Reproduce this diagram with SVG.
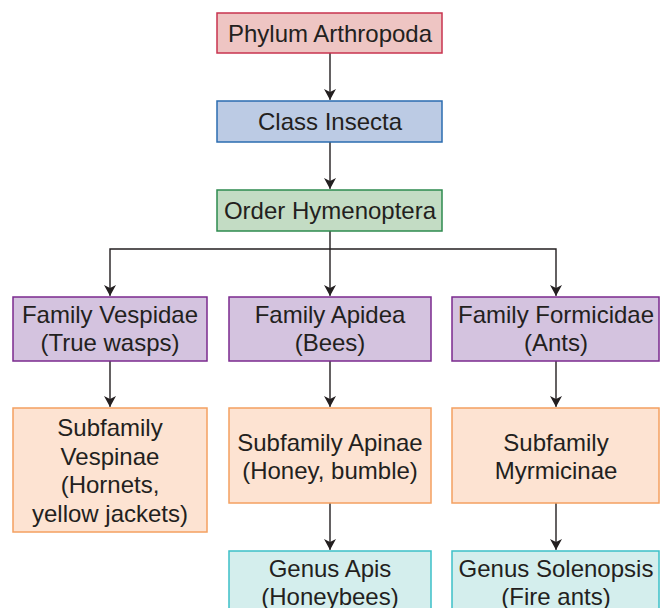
<svg xmlns="http://www.w3.org/2000/svg" width="668" height="608" viewBox="0 0 668 608">
<defs>
<marker id="arr" markerWidth="10" markerHeight="14" refX="11" refY="6" orient="auto" markerUnits="userSpaceOnUse">
<path d="M0,0 L11,6 L0,12 L3,6 Z" fill="#231f20"/>
</marker>
</defs>
<style>
text{font-family:"Liberation Sans",Arial,sans-serif;font-size:24px;fill:#231f20;text-anchor:middle}
.phy{fill:#eec5c3;stroke:#c8334f;stroke-width:1.5}
.cls{fill:#bccbe4;stroke:#2b6cb0;stroke-width:1.5}
.ord{fill:#c3dcc4;stroke:#2e8b4f;stroke-width:1.5}
.fam{fill:#d4c3df;stroke:#7b2a8e;stroke-width:1.5}
.sub{fill:#fde3d2;stroke:#f4a060;stroke-width:1.5}
.gen{fill:#d4eeed;stroke:#3cc0c8;stroke-width:1.5}
.c{fill:none;stroke:#231f20;stroke-width:1.4}
</style>
<g id="connectors">
<path class="c" d="M330,53 V100" marker-end="url(#arr)"/>
<path class="c" d="M330,142 V189" marker-end="url(#arr)"/>
<path class="c" d="M330,231 V249"/>
<path class="c" d="M330,249 H110 V296" marker-end="url(#arr)"/>
<path class="c" d="M330,249 V296" marker-end="url(#arr)"/>
<path class="c" d="M330,249 H556 V296" marker-end="url(#arr)"/>
<path class="c" d="M110,361 V407" marker-end="url(#arr)"/>
<path class="c" d="M330,361 V407" marker-end="url(#arr)"/>
<path class="c" d="M556,361 V407" marker-end="url(#arr)"/>
<path class="c" d="M330,503 V550" marker-end="url(#arr)"/>
<path class="c" d="M556,503 V550" marker-end="url(#arr)"/>
</g>
<g id="phylum"><rect class="phy" x="217" y="13" width="225" height="40"/><text x="330" y="41.5">Phylum Arthropoda</text></g>
<g id="class"><rect class="cls" x="217" y="101" width="225" height="41"/><text x="330" y="130">Class Insecta</text></g>
<g id="order"><rect class="ord" x="217" y="190" width="225" height="41"/><text x="330" y="219">Order Hymenoptera</text></g>
<g id="vespidae"><rect class="fam" x="13" y="297" width="194" height="64"/><text x="110" y="323">Family Vespidae</text><text x="110" y="351">(True wasps)</text></g>
<g id="apidea"><rect class="fam" x="229" y="297" width="202" height="64"/><text x="330" y="323">Family Apidea</text><text x="330" y="351">(Bees)</text></g>
<g id="formicidae"><rect class="fam" x="452" y="297" width="207" height="64"/><text x="556" y="323">Family Formicidae</text><text x="556" y="351">(Ants)</text></g>
<g id="vespinae"><rect class="sub" x="13" y="408" width="194" height="124"/><text x="110" y="436">Subfamily</text><text x="110" y="464.5">Vespinae</text><text x="110" y="493">(Hornets,</text><text x="110" y="521.5">yellow jackets)</text></g>
<g id="apinae"><rect class="sub" x="229" y="408" width="202" height="95"/><text x="330" y="451">Subfamily Apinae</text><text x="330" y="479">(Honey, bumble)</text></g>
<g id="myrmicinae"><rect class="sub" x="452" y="408" width="207" height="95"/><text x="556" y="451">Subfamily</text><text x="556" y="479">Myrmicinae</text></g>
<g id="apis"><rect class="gen" x="229" y="551" width="202" height="70"/><text x="330" y="577">Genus Apis</text><text x="330" y="605">(Honeybees)</text></g>
<g id="solenopsis"><rect class="gen" x="452" y="551" width="207" height="70"/><text x="556" y="577">Genus Solenopsis</text><text x="556" y="605">(Fire ants)</text></g>
</svg>
